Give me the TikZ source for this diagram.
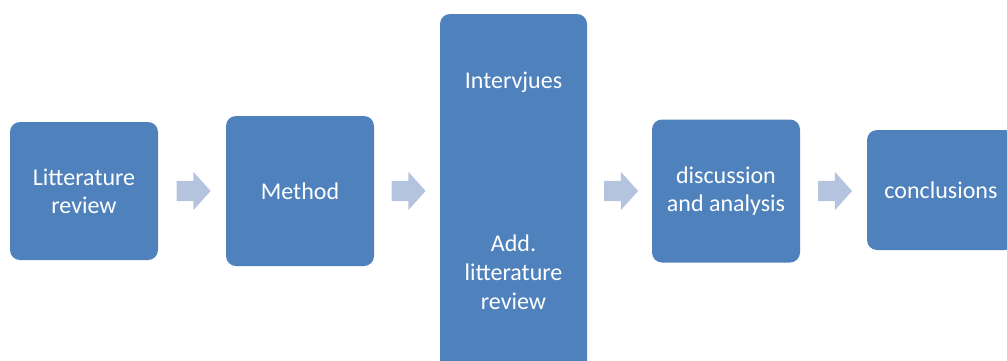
\documentclass[tikz,border=0pt]{standalone}
\usepackage{fontspec}
\setmainfont{Carlito}
\usetikzlibrary{shapes.arrows, positioning, calc}
\definecolor{stageblue}{RGB}{79, 129, 189}
\definecolor{flowgray}{RGB}{180, 196, 222}

\begin{document}
\begin{tikzpicture}[
    x=1pt, y=-1pt,
    stage/.style={fill=stageblue, rounded corners=10pt, text=white, align=center, inner sep=0pt, minimum width=148pt, font=\fontsize{24pt}{28pt}\selectfont},
    stagetext/.style={text=white, align=center, inner sep=0pt, font=\fontsize{24pt}{29pt}\selectfont},
    flow/.style={single arrow, fill=flowgray, draw=none, inner sep=0pt, text height=20pt, text depth=0pt, minimum height=34pt, single arrow head extend=9pt, single arrow tip angle=96, xshift=-3pt}
]
    \useasboundingbox (0, 0) rectangle (1007, 360);
    \clip (0, 0) rectangle (1007, 360);

    % --- STAGES ---
    \node[stage, minimum height=138pt] (lit) at (84, 191) {Litterature\\ review};
    \node[stage, minimum height=150pt] (meth) at (300, 191) {Method};
    \node[stage, minimum width=147pt, minimum height=358pt] (tall) at (513.5, 193) {};
    \node[stagetext] (intv) at ($(tall.north)+(0, 68)$) {Intervjues};
    \node[stagetext] (addlit) at ($(tall.north)+(0, 258)$) {Add.\\ litterature\\ review};
    \node[stage, minimum height=143pt] (disc) at (726, 191) {discussion\\ and analysis};
    \node[stage, minimum height=120pt] (concl) at (941, 190) {conclusions};

    % --- FLOW ARROWS ---
    \node[flow] (f1) at ($(lit.east)!0.5!(meth.west)$) {};
    \node[flow] (f2) at ($(meth.east)!0.5!(tall.west |- meth.east)$) {};
    \node[flow] (f3) at ($(tall.east |- disc.west)!0.5!(disc.west)$) {};
    \node[flow] (f4) at ($(disc.east)!0.5!(concl.west |- disc.east)$) {};

\end{tikzpicture}
\end{document}
